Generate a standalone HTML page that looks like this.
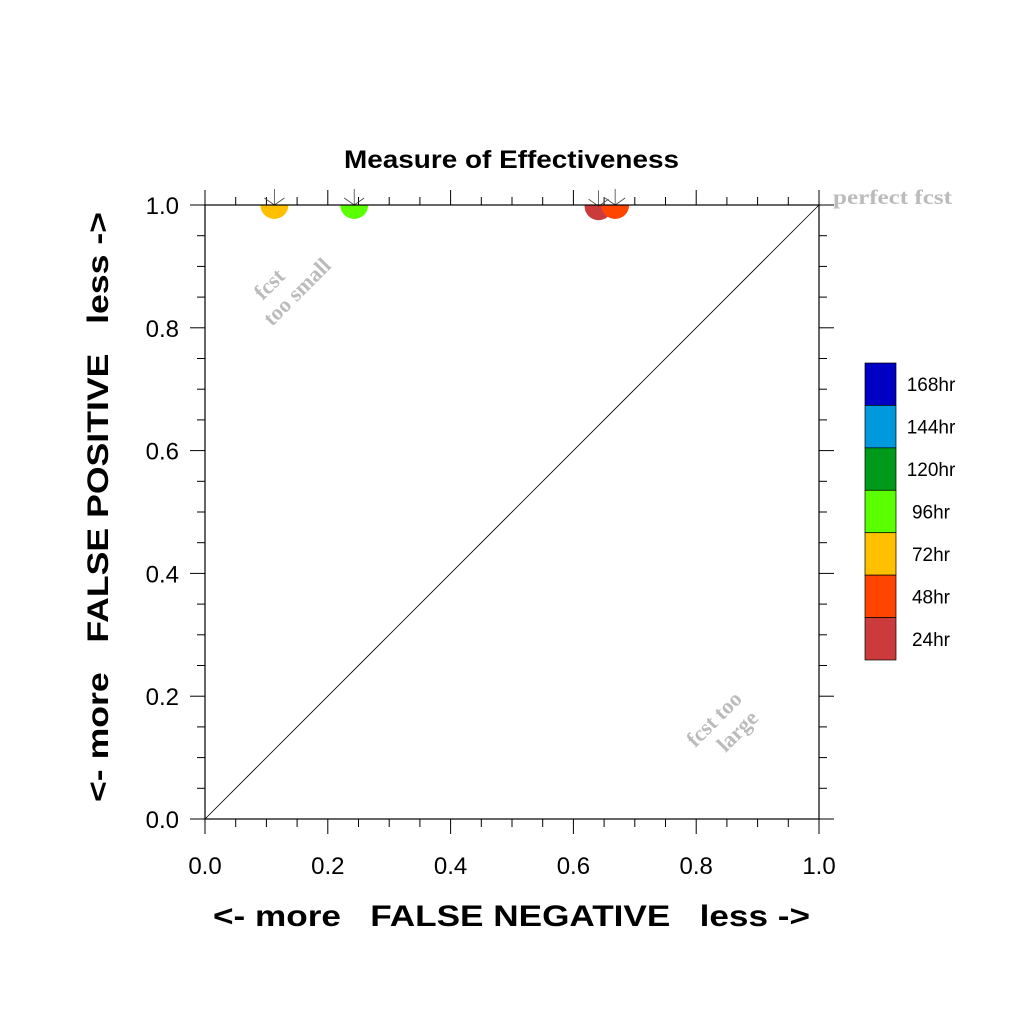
<!DOCTYPE html>
<html><head><meta charset="utf-8"><style>
body{margin:0;background:#fff}
svg text{font-family:"Liberation Sans",sans-serif}
</style></head><body>
<svg id="chart" width="1024" height="1024" xmlns="http://www.w3.org/2000/svg">
<defs><clipPath id="pc"><rect x="205" y="205" width="614" height="614"/></clipPath></defs>
<text x="344" y="168" textLength="335" lengthAdjust="spacingAndGlyphs" font-size="25" font-weight="bold">Measure of Effectiveness</text>
<g id="axes"></g>
<line x1="205" y1="819" x2="819" y2="205" stroke="#000" stroke-width="0.8"/>
<g id="pts"></g>
<rect x="205" y="205" width="614" height="614" fill="none" stroke="#000" stroke-width="1.2"/>
<text x="833" y="204" textLength="119" lengthAdjust="spacingAndGlyphs" font-weight="bold" font-size="21" fill="#bbb" style="font-family:'Liberation Serif',serif">perfect fcst</text>
<g transform="translate(290,285) rotate(-45)" fill="#bbb" font-weight="bold" font-size="22"><text x="-14" y="-8" text-anchor="middle" style="font-family:'Liberation Serif',serif">fcst</text><text x="0" y="17" text-anchor="middle" style="font-family:'Liberation Serif',serif">too small</text></g>
<g transform="translate(722,727) rotate(-45)" fill="#bbb" font-weight="bold" font-size="22"><text x="0" y="-4" text-anchor="middle" style="font-family:'Liberation Serif',serif">fcst too</text><text x="8" y="21" text-anchor="middle" style="font-family:'Liberation Serif',serif">large</text></g>
<text x="213" y="926" textLength="597" lengthAdjust="spacingAndGlyphs" font-size="30" font-weight="bold" xml:space="preserve">&lt;- more   FALSE NEGATIVE   less -&gt;</text>
<text transform="translate(108,802) rotate(-90)" textLength="590" lengthAdjust="spacingAndGlyphs" font-size="30" font-weight="bold" xml:space="preserve">&lt;- more   FALSE POSITIVE   less -&gt;</text>
<g id="legend"></g>
</svg>
<script>
const ticks=["0.0","0.2","0.4","0.6","0.8","1.0"];
const leadLabels=["24hr","48hr","72hr","96hr"];
const fnValues=[0.641,0.668,0.113,0.243];
const fpValues=[0.998,1.0,1.0,1.0];
const pointColors=["#cc3b3b","#ff4500","#ffc000","#5aff00"];
const legendLabels=["168hr","144hr","120hr","96hr","72hr","48hr","24hr"];
const legendColors=["#0000c4","#0099dd","#009a1a","#5aff00","#ffc000","#ff4500","#cc3b3b"];
const NS="http://www.w3.org/2000/svg";
const x0=205,x1=819,y0=819,y1=205;
const sx=v=>x0+v*(x1-x0), sy=v=>y0-v*(y0-y1);
function mk(t,a,p){const e=document.createElementNS(NS,t);for(const k in a)e.setAttribute(k,a[k]);p.appendChild(e);return e;}
const ax=document.getElementById('axes');
for(let i=0;i<=20;i++){const v=i*0.05,maj=i%4===0,L=maj?15:8;
 const X=sx(v),Y=sy(v);
 let e;
 e=mk('line',{x1:X,y1:y0,x2:X,y2:y0+L,stroke:'#000','stroke-width':1},ax);
 e=mk('line',{x1:X,y1:y1,x2:X,y2:y1-L,stroke:'#000','stroke-width':1},ax);
 e=mk('line',{x1:x0,y1:Y,x2:x0-L,y2:Y,stroke:'#000','stroke-width':1},ax);
 e=mk('line',{x1:x1,y1:Y,x2:x1+L,y2:Y,stroke:'#000','stroke-width':1},ax);
}
ticks.forEach((t,i)=>{const v=parseFloat(t);
 let e=mk('text',{x:sx(v),y:874,'text-anchor':'middle','font-size':24},ax);e.textContent=t;
 
 e=mk('text',{x:179,y:sy(v)+9,'text-anchor':'end','font-size':24},ax);e.textContent=t;
 
});
const pg=document.getElementById('pts');
const cg=mk('g',{'clip-path':'url(#pc)'},pg);
fnValues.forEach((v,i)=>{const X=sx(v),Y=sy(fpValues[i]);
 const c=mk('circle',{cx:X,cy:Y,r:14,fill:pointColors[i]},cg);
 
});
fnValues.forEach((v,i)=>{const X=sx(v),Y=sy(fpValues[i]);
 const g=mk('g',{stroke:'#444','stroke-width':0.8,fill:'none'},pg);
 
 mk('line',{x1:X,y1:Y,x2:X,y2:Y-16},g);
 mk('line',{x1:X,y1:Y,x2:X-10,y2:Y-7},g);
 mk('line',{x1:X,y1:Y,x2:X+10,y2:Y-7},g);
});
const lg=document.getElementById('legend');
const bh=(660-363)/legendLabels.length;
legendLabels.forEach((l,i)=>{
 const r=mk('rect',{x:865,y:363+i*bh,width:31,height:bh,fill:legendColors[i],stroke:'#000','stroke-width':0.7},lg);
 
 const t=mk('text',{x:931,y:363+i*bh+bh/2+7,'text-anchor':'middle','font-size':19},lg);t.textContent=l;
 
});
</script>
</body></html>
